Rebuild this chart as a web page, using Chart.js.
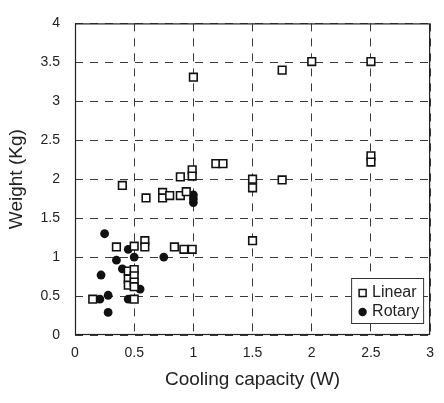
<!DOCTYPE html>
<html>
<head>
<meta charset="utf-8">
<script src="https://cdn.jsdelivr.net/npm/chart.js@4/dist/chart.umd.min.js"></script>
<style>
html,body{margin:0;padding:0;background:#fff;}
#wrap{width:444px;height:403px;}
</style>
</head>
<body>
<div id="wrap"><canvas id="c" width="444" height="403"></canvas></div>
<script>
// Data
const linearX = [0.15, 0.50, 0.45, 0.45, 0.45, 0.50, 0.50, 0.50, 0.50, 0.35, 0.50, 0.59, 0.59, 0.84, 0.92, 0.99, 1.50,
                 0.40, 0.60, 0.74, 0.74, 0.80, 0.89, 0.94, 0.89, 0.99, 0.99, 1.19, 1.25, 1.50, 1.50, 1.75,
                 2.50, 2.50, 1.00, 1.75, 2.00, 2.50];
const linearY = [0.46, 0.46, 0.82, 0.72, 0.64, 0.84, 0.76, 0.68, 0.62, 1.13, 1.14, 1.21, 1.13, 1.13, 1.10, 1.10, 1.21,
                 1.92, 1.76, 1.83, 1.76, 1.79, 1.79, 1.84, 2.03, 2.12, 2.04, 2.20, 2.20, 2.00, 1.89, 1.99,
                 2.30, 2.22, 3.31, 3.40, 3.51, 3.51];
const rotaryX = [0.25, 0.45, 0.50, 0.35, 0.75, 0.40, 0.22, 0.55, 0.28, 0.21, 0.45, 0.28, 1.00, 1.00, 1.00];
const rotaryY = [1.30, 1.10, 1.00, 0.96, 1.00, 0.85, 0.77, 0.59, 0.51, 0.46, 0.46, 0.29, 1.80, 1.75, 1.70];
const seriesNames = ['Linear', 'Rotary'];
const xTicks = [0, 0.5, 1, 1.5, 2, 2.5, 3];
const yTicks = [0, 0.5, 1, 1.5, 2, 2.5, 3, 3.5, 4];
const xTitle = 'Cooling capacity (W)';
const yTitle = 'Weight (Kg)';

const toPts = (xs, ys) => xs.map((x, i) => ({x: x, y: ys[i]}));

const FONT = "'Liberation Sans', Arial, sans-serif";

const frameAndLegend = {
  id: 'frameAndLegend',
  afterDraw(chart) {
    const ctx = chart.ctx;
    const a = chart.chartArea;
    ctx.save();
    // frame
    ctx.strokeStyle = '#222';
    ctx.lineWidth = 1.2;
    ctx.setLineDash([]);
    ctx.strokeRect(a.left + 0.5, a.top + 0.5, a.right - a.left - 1, a.bottom - a.top - 1);
    // legend box
    const bw = 72, bh = 45;
    const bx = a.right - 7 - bw, by = a.bottom - 12 - bh;
    ctx.fillStyle = '#fff';
    ctx.fillRect(bx, by, bw, bh);
    ctx.lineWidth = 1;
    ctx.strokeStyle = '#333';
    ctx.strokeRect(bx + 0.5, by + 0.5, bw, bh);
    ctx.font = "16px " + FONT;
    ctx.fillStyle = '#222';
    ctx.textBaseline = 'middle';
    ctx.textAlign = 'left';
    const y1 = by + 15, y2 = by + 34;
    ctx.lineWidth = 1.5;
    ctx.strokeStyle = '#111';
    ctx.strokeRect(bx + 8, y1 - 3.5, 7, 7);
    ctx.fillText(seriesNames[0], bx + 21, y1);
    ctx.beginPath();
    ctx.arc(bx + 11.5, y2, 4.2, 0, Math.PI * 2);
    ctx.fillStyle = '#111';
    ctx.fill();
    ctx.fillStyle = '#222';
    ctx.fillText(seriesNames[1], bx + 21, y2);
    ctx.restore();
  }
};

new Chart(document.getElementById('c'), {
  type: 'scatter',
  data: {
    datasets: [
      {
        label: seriesNames[0],
        data: toPts(linearX, linearY),
        pointStyle: 'rect',
        pointRadius: 5.4,
        pointBorderWidth: 1.6,
        borderColor: '#111',
        backgroundColor: '#fff'
      },
      {
        label: seriesNames[1],
        data: toPts(rotaryX, rotaryY),
        pointStyle: 'circle',
        pointRadius: 4.4,
        pointBorderWidth: 0,
        borderColor: '#111',
        backgroundColor: '#111'
      }
    ]
  },
  options: {
    responsive: false,
    animation: false,
    devicePixelRatio: 1,
    layout: {padding: {left: 0, top: 15, right: 11, bottom: 0}},
    plugins: {
      legend: {display: false},
      tooltip: {enabled: false}
    },
    scales: {
      x: {
        type: 'linear',
        min: 0, max: 3,
        afterBuildTicks: (s) => { s.ticks = xTicks.map(v => ({value: v})); },
        afterFit: (s) => { s.height = 68; },
        ticks: {
          color: '#222',
          padding: 10,
          font: {family: FONT, size: 14},
          callback: (v) => String(v)
        },
        grid: {
          color: '#3a3a3a',
          lineWidth: 1,
          drawTicks: false
        },
        border: {display: false, dash: [8, 7]},
        title: {
          display: true,
          text: xTitle,
          color: '#222',
          font: {family: FONT, size: 19},
          padding: {top: 0, bottom: 12}
        }
      },
      y: {
        type: 'linear',
        min: 0, max: 4,
        afterBuildTicks: (s) => { s.ticks = yTicks.map(v => ({value: v})); },
        afterFit: (s) => { s.width = 75; },
        ticks: {
          color: '#222',
          padding: 15,
          font: {family: FONT, size: 14},
          callback: (v) => String(v)
        },
        grid: {
          color: '#3a3a3a',
          lineWidth: 1,
          drawTicks: false
        },
        border: {display: false, dash: [8, 7]},
        title: {
          display: true,
          text: yTitle,
          color: '#222',
          font: {family: FONT, size: 19},
          padding: {top: 5, bottom: 0}
        }
      }
    }
  },
  plugins: [frameAndLegend]
});
</script>
</body>
</html>
